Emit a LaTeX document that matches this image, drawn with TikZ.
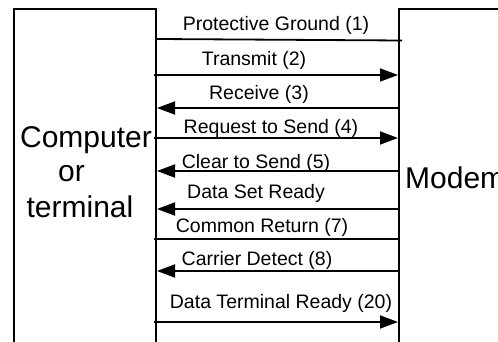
\documentclass[tikz,border=0pt]{standalone}
\usepackage{fontspec}
\setmainfont{Liberation Sans}
\usetikzlibrary{arrows.meta}
\begin{document}
\begin{tikzpicture}[x=1pt,y=-1pt,
  unitbox/.style={draw,line width=2pt,rectangle,anchor=north west,inner sep=0pt},
  bigtext/.style={font=\fontsize{30}{34}\selectfont,inner sep=0pt,anchor=base},
  lbl/.style={font=\fontsize{19.5}{22}\selectfont,inner sep=0pt,anchor=base},
  sig/.style={line width=1.8pt},
  tip/.style={-{Triangle[length=18pt,width=13pt]}}]
\useasboundingbox (0,0) rectangle (498,342);
\clip (0,0) rectangle (498,342);

% the two units, both running off the page
\node[unitbox,minimum width=142pt,minimum height=380pt] (comp) at (13,8) {};
\node[unitbox,minimum width=130pt,minimum height=380pt] (modem) at (398,8) {};

\node[bigtext] (c1) at (86,148) {Computer};
\node[bigtext] (c2) at (71.5,182) {or};
\node[bigtext] (c3) at (80,217) {terminal};
\node[bigtext,anchor=base west] (m1) at (405,188) {Modem};

% interface lines
\draw[sig] (comp.east |- 0,39) -- ([xshift=4pt]modem.west |- 0,40.5);
\draw[sig,tip] ([xshift=-3pt]comp.east |- 0,75) -- (modem.west |- 0,75);
\draw[sig,tip] (modem.west |- 0,108) -- (comp.east |- 0,108);
\draw[sig,tip] ([xshift=-3pt]comp.east |- 0,138) -- (modem.west |- 0,138);
\draw[sig,tip] (modem.west |- 0,171) -- (comp.east |- 0,171);
\draw[sig,tip] (modem.west |- 0,209) -- (comp.east |- 0,209);
\draw[sig] ([xshift=-3pt]comp.east |- 0,239) -- (modem.west |- 0,239);
\draw[sig,tip] (modem.west |- 0,271) -- (comp.east |- 0,271);
\draw[sig,tip] ([xshift=-3pt]comp.east |- 0,322) -- (modem.west |- 0,322);

% line labels
\node[lbl] (l1) at (276,30.5) {Protective Ground (1)};
\node[lbl] (l2) at (254,65.5) {Transmit (2)};
\node[lbl] (l3) at (259,100) {Receive (3)};
\node[lbl] (l4) at (271,133.5) {Request to Send (4)};
\node[lbl] (l5) at (256,168) {Clear to Send (5)};
\node[lbl] (l6) at (256,198) {Data Set Ready};
\node[lbl] (l7) at (262,232) {Common Return (7)};
\node[lbl] (l8) at (257,265) {Carrier Detect (8)};
\node[lbl] (l9) at (281,308) {Data Terminal Ready (20)};
\end{tikzpicture}
\end{document}
